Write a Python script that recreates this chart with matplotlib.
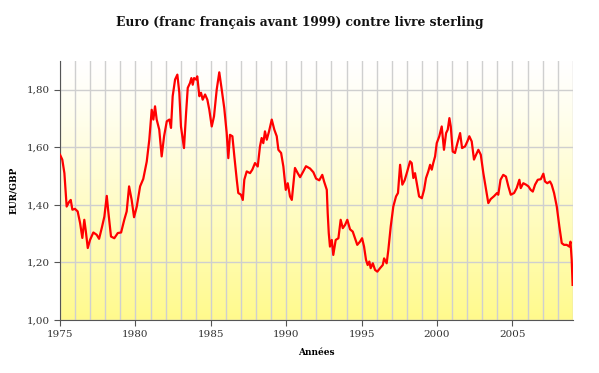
import numpy as np
import matplotlib
matplotlib.use("Agg")
import matplotlib.pyplot as plt
from matplotlib.ticker import FuncFormatter, MultipleLocator

# EUR/GBP (French franc converted before 1999)
years = [
    1975.00, 1975.15, 1975.29, 1975.44, 1975.60, 1975.71, 1975.82, 1975.99,
    1976.17, 1976.33, 1976.48, 1976.61, 1976.70, 1976.84, 1976.99, 1977.21,
    1977.43, 1977.59, 1977.77, 1977.94, 1978.10, 1978.20, 1978.38, 1978.60,
    1978.83, 1979.05, 1979.26, 1979.42, 1979.58, 1979.75, 1979.91, 1980.09,
    1980.31, 1980.52, 1980.75, 1980.92, 1981.08, 1981.19, 1981.30, 1981.41,
    1981.58, 1981.74, 1981.90, 1982.08, 1982.25, 1982.36, 1982.47, 1982.63,
    1982.78, 1982.91, 1983.02, 1983.22, 1983.36, 1983.47, 1983.62, 1983.71,
    1983.80, 1983.89, 1984.02, 1984.10, 1984.24, 1984.35, 1984.46, 1984.62,
    1984.77, 1984.90, 1985.06, 1985.21, 1985.39, 1985.56, 1985.71, 1985.89,
    1986.05, 1986.16, 1986.27, 1986.43, 1986.56, 1986.72, 1986.82, 1987.00,
    1987.12, 1987.22, 1987.38, 1987.60, 1987.75, 1987.93, 1988.11, 1988.26,
    1988.37, 1988.48, 1988.59, 1988.71, 1988.86, 1989.04, 1989.21, 1989.37,
    1989.48, 1989.66, 1989.81, 1989.97, 1990.10, 1990.25, 1990.37, 1990.58,
    1990.76, 1990.92, 1991.11, 1991.31, 1991.58, 1991.80, 1991.98, 1992.19,
    1992.39, 1992.51, 1992.69, 1992.75, 1992.82, 1992.90, 1993.02, 1993.12,
    1993.28, 1993.46, 1993.61, 1993.75, 1993.90, 1994.05, 1994.23, 1994.41,
    1994.56, 1994.71, 1994.89, 1995.03, 1995.16, 1995.29, 1995.40, 1995.51,
    1995.60, 1995.74, 1995.89, 1996.04, 1996.22, 1996.40, 1996.49, 1996.66,
    1996.77, 1996.93, 1997.10, 1997.28, 1997.41, 1997.55, 1997.70, 1997.85,
    1998.01, 1998.21, 1998.32, 1998.43, 1998.54, 1998.69, 1998.81, 1998.99,
    1999.14, 1999.27, 1999.42, 1999.54, 1999.65, 1999.75, 1999.87, 1999.98,
    2000.15, 2000.31, 2000.46, 2000.60, 2000.71, 2000.82, 2000.91, 2001.04,
    2001.19, 2001.35, 2001.53, 2001.66, 2001.86, 2002.01, 2002.14, 2002.30,
    2002.45, 2002.59, 2002.74, 2002.90, 2003.07, 2003.25, 2003.40, 2003.56,
    2003.78, 2003.98, 2004.06, 2004.21, 2004.39, 2004.57, 2004.73, 2004.89,
    2005.11, 2005.28, 2005.46, 2005.55, 2005.72, 2005.90, 2006.06, 2006.21,
    2006.35, 2006.50, 2006.68, 2006.88, 2007.05, 2007.16, 2007.31, 2007.49,
    2007.60, 2007.76, 2007.94, 2008.11, 2008.27, 2008.42, 2008.60, 2008.77,
    2008.85, 2008.93, 2008.99,
]
eur_gbp = [
    1.574, 1.557, 1.510, 1.394, 1.410, 1.417, 1.383, 1.386,
    1.377, 1.337, 1.285, 1.348, 1.313, 1.250, 1.278, 1.304,
    1.296, 1.282, 1.320, 1.359, 1.431, 1.377, 1.290, 1.284,
    1.302, 1.304, 1.348, 1.377, 1.464, 1.417, 1.357, 1.394,
    1.464, 1.490, 1.550, 1.626, 1.730, 1.696, 1.742, 1.696,
    1.661, 1.568, 1.638, 1.690, 1.696, 1.667, 1.777, 1.835,
    1.852, 1.789, 1.672, 1.597, 1.719, 1.806, 1.823, 1.840,
    1.817, 1.840, 1.835, 1.846, 1.777, 1.789, 1.765, 1.783,
    1.765, 1.730, 1.672, 1.707, 1.800, 1.860, 1.805, 1.736,
    1.650, 1.562, 1.643, 1.638, 1.568, 1.487, 1.441, 1.435,
    1.417, 1.487, 1.516, 1.510, 1.522, 1.545, 1.533, 1.603,
    1.632, 1.614, 1.655, 1.626, 1.655, 1.696, 1.661, 1.638,
    1.591, 1.580, 1.533, 1.452, 1.475, 1.429, 1.417, 1.528,
    1.510, 1.496, 1.514, 1.534, 1.526, 1.513, 1.491, 1.485,
    1.504, 1.481, 1.452, 1.371, 1.302, 1.255, 1.278, 1.226,
    1.278, 1.284, 1.348, 1.319, 1.330, 1.348, 1.315, 1.307,
    1.284, 1.261, 1.272, 1.284, 1.255, 1.209, 1.191, 1.203,
    1.180, 1.197, 1.174, 1.168, 1.180, 1.191, 1.214, 1.197,
    1.243, 1.325, 1.394, 1.429, 1.441, 1.539, 1.470, 1.485,
    1.513, 1.551, 1.545, 1.493, 1.510, 1.464, 1.429, 1.423,
    1.452, 1.493, 1.516, 1.539, 1.522, 1.545, 1.568, 1.614,
    1.638, 1.672, 1.591, 1.649, 1.661, 1.701, 1.672, 1.585,
    1.580, 1.614, 1.649, 1.597, 1.603, 1.620, 1.638, 1.620,
    1.557, 1.574, 1.591, 1.574, 1.510, 1.452, 1.406, 1.420,
    1.430, 1.441, 1.435, 1.487, 1.504, 1.498, 1.464, 1.435,
    1.441, 1.458, 1.487, 1.458, 1.475, 1.470, 1.464, 1.452,
    1.446, 1.470, 1.487, 1.489, 1.508, 1.481, 1.475, 1.481,
    1.470, 1.441, 1.394, 1.325, 1.267, 1.261, 1.261, 1.255,
    1.272, 1.209, 1.122,
]

serif = "DejaVu Serif"

fig = plt.figure(figsize=(5.99, 3.73), dpi=100)
ax = fig.add_axes([0.1002, 0.142, 0.856, 0.695])

x0, x1 = 1975, 2009
y0, y1 = 1.0, 1.9

# white (top) to pale yellow (bottom) gradient behind the plot
grad = np.linspace(0, 1, 256).reshape(-1, 1)
top = np.array([1.0, 1.0, 1.0])
bottom = np.array([1.0, 0.98, 0.55])
colors = top + (bottom - top) * grad[..., None] ** 1.2
ax.imshow(colors, extent=[x0, x1, y0, y1], aspect="auto", zorder=0,
          origin="upper")

ax.plot(years, eur_gbp, color="#ff0000", lw=1.6, zorder=3)

ax.set_xlim(x0, x1)
ax.set_ylim(y0, y1)

ax.xaxis.set_major_locator(MultipleLocator(5))
ax.xaxis.set_minor_locator(MultipleLocator(1))
ax.yaxis.set_major_locator(MultipleLocator(0.2))
ax.yaxis.set_major_formatter(FuncFormatter(lambda v, p: f"{v:.2f}".replace(".", ",")))

ax.grid(True, which="both", axis="x", color="#cfcfcf", lw=1.0)
ax.grid(True, which="major", axis="y", color="#cfcfcf", lw=1.0)
for gl in ax.get_xgridlines() + ax.get_ygridlines():
    gl.set_zorder(1)

ax.spines["top"].set_visible(False)
ax.spines["right"].set_visible(False)
ax.spines["left"].set_color("#555555")
ax.spines["bottom"].set_color("#555555")
ax.tick_params(axis="both", which="major", length=4, color="#555555",
               labelsize=7.5, labelcolor="#333333")
ax.tick_params(axis="both", which="minor", length=0)
for lab in ax.get_xticklabels() + ax.get_yticklabels():
    lab.set_family(serif)

ax.set_xlabel("Années", family=serif, fontsize=6.5, fontweight="bold", labelpad=6)
ax.set_ylabel("EUR/GBP", family=serif, fontsize=6.5, fontweight="bold", labelpad=6)
fig.text(0.5, 0.94, "Euro (franc français avant 1999) contre livre sterling",
         ha="center", va="center", family=serif, fontsize=8.8, fontweight="bold",
         color="#111111")

fig.savefig("out.png", dpi=100)
